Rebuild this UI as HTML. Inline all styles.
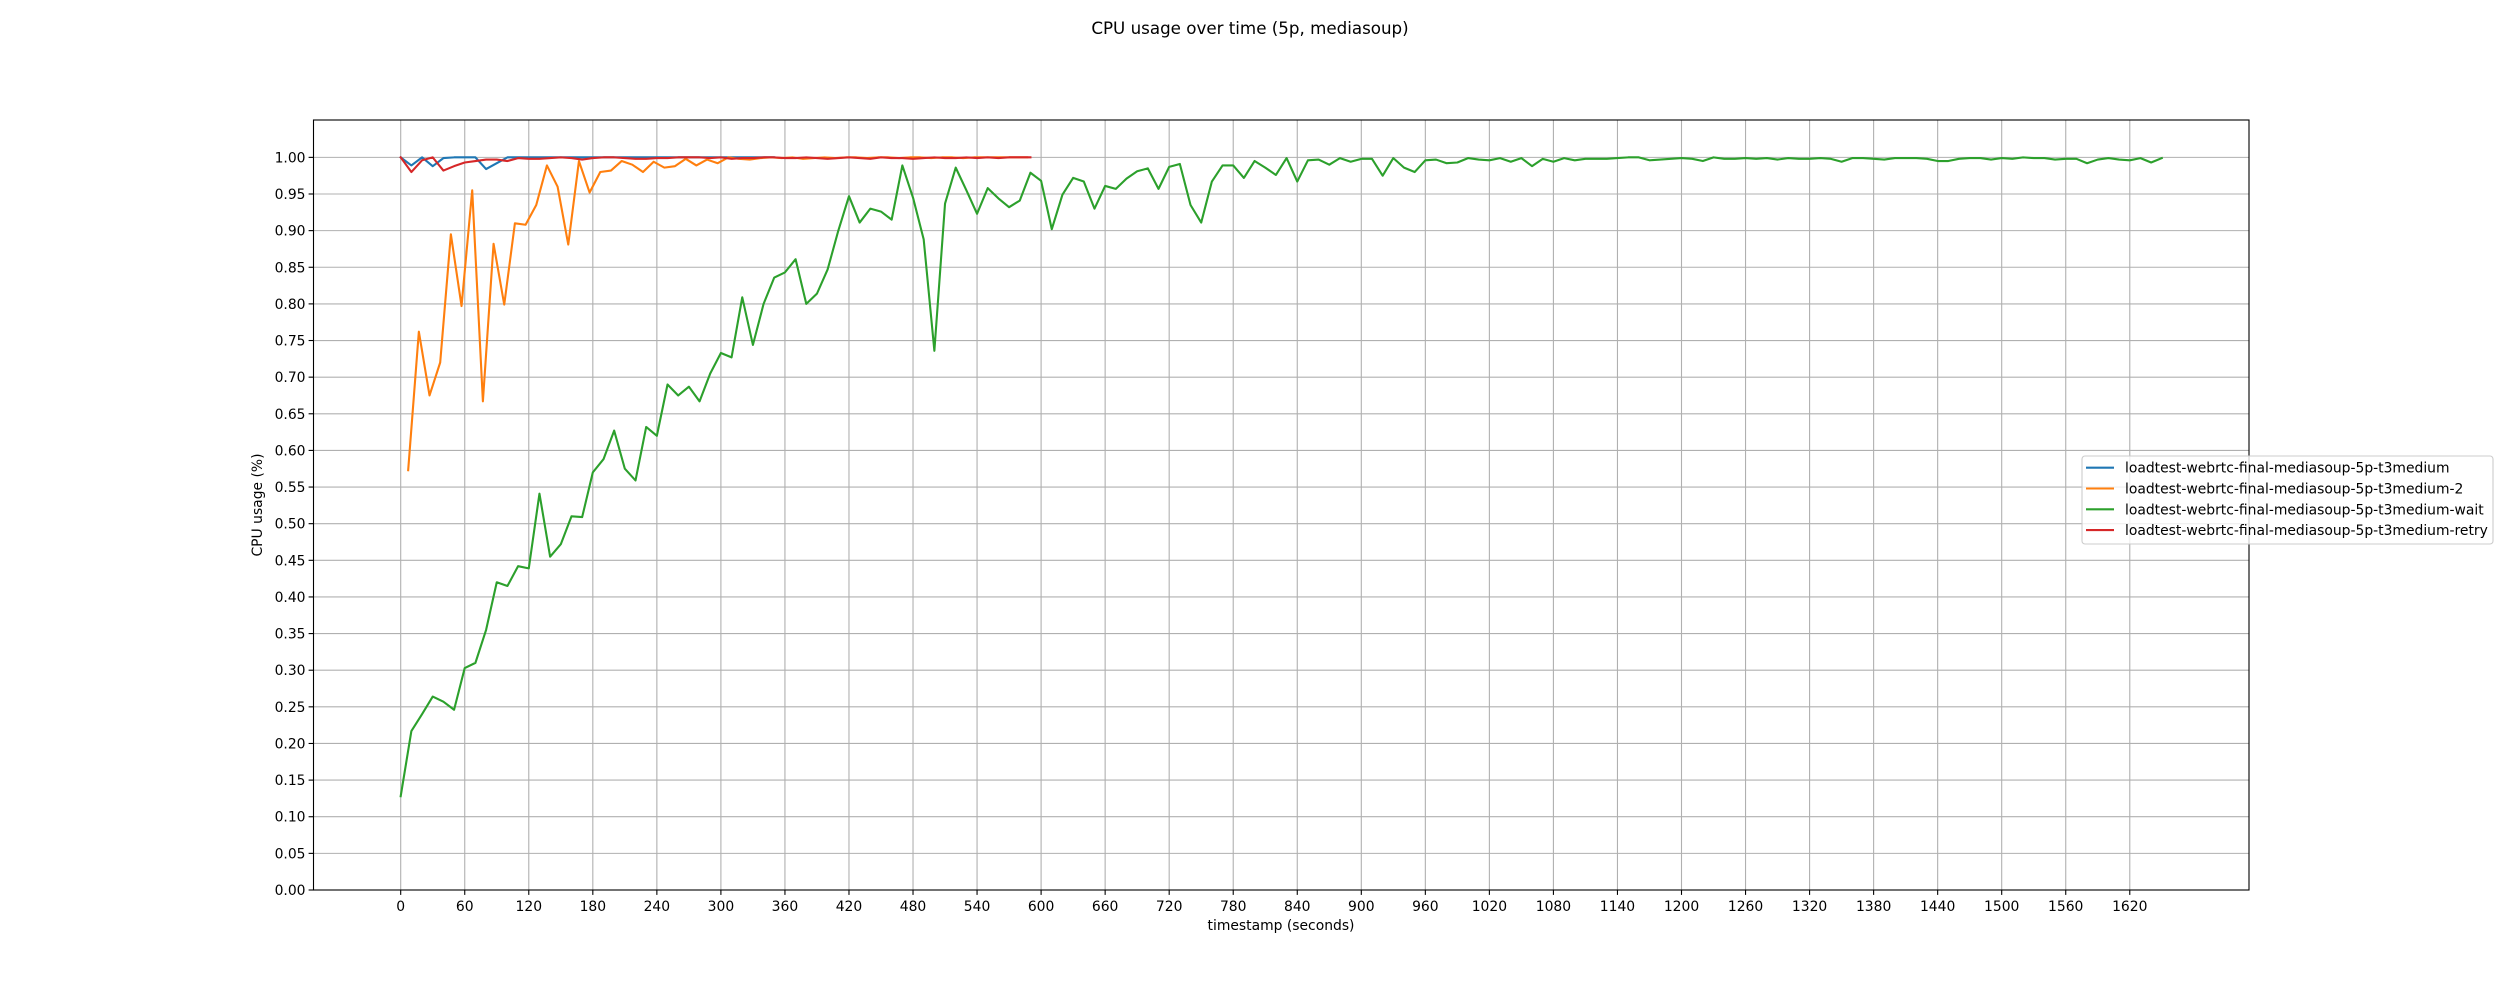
<!DOCTYPE html>
<html><head><meta charset="utf-8"><style>
body{margin:0;background:#fff;}
svg{display:block;font-family:"DejaVu Sans","Liberation Sans",sans-serif;}
</style></head><body>
<svg id="chart" width="2500" height="1000" viewBox="0 0 2500 1000" xmlns="http://www.w3.org/2000/svg">
<rect width="2500" height="1000" fill="#fff"/>
<text x="1250" y="34" font-size="16.7" text-anchor="middle">CPU usage over time (5p, mediasoup)</text>
<g id="grid"></g>
<g id="series"></g>
<g id="axes"></g>
<text x="1281" y="930" font-size="13.9" text-anchor="middle">timestamp (seconds)</text>
<text x="262" y="505" font-size="13.9" text-anchor="middle" transform="rotate(-90 262 505)">CPU usage (%)</text>
<g id="legend"></g>
</svg>
<script>
const seriesNames=["loadtest-webrtc-final-mediasoup-5p-t3medium","loadtest-webrtc-final-mediasoup-5p-t3medium-2","loadtest-webrtc-final-mediasoup-5p-t3medium-wait","loadtest-webrtc-final-mediasoup-5p-t3medium-retry"];
const seriesStart=[0,7,0,0];
const seriesStep=[10,10,10,10];
const blueValues=[1.0,0.989,1.0,0.988,0.999,1.0,1.0,1.0,0.984,0.992,1.0,1.0,1.0,1.0,1.0,1.0,1.0,1.0,1.0,1.0,1.0,1.0,1.0,1.0,1.0,1.0,1.0,1.0,1.0,1.0,1.0,1.0,1.0,1.0,1.0,1.0];
const orangeValues=[0.573,0.762,0.675,0.72,0.895,0.797,0.955,0.667,0.882,0.799,0.91,0.908,0.935,0.989,0.96,0.881,0.995,0.952,0.98,0.982,0.995,0.99,0.98,0.994,0.986,0.988,0.998,0.989,0.997,0.992,1.0,0.998,0.997,0.999,1.0,0.999,1.0,0.998,0.999,1.0,0.999,1.0,1.0,0.999,1.0,1.0,0.999,1.0,1.0,0.999,1.0,1.0,0.999,1.0,1.0,1.0,1.0,1.0,1.0];
const greenValues=[0.128,0.217,0.24,0.264,0.257,0.246,0.303,0.31,0.355,0.42,
0.415,0.442,0.439,0.541,0.455,0.472,0.51,0.509,0.57,0.588,
0.627,0.575,0.559,0.632,0.62,0.69,0.675,0.687,0.667,0.705,
0.733,0.727,0.809,0.744,0.8,0.836,0.843,0.861,0.8,0.814,
0.847,0.9,0.947,0.911,0.93,0.926,0.915,0.989,0.945,0.888,
0.736,0.937,0.986,0.955,0.923,0.958,0.944,0.932,0.941,0.979,
0.968,0.902,0.949,0.972,0.967,0.93,0.961,0.957,0.971,0.981,
0.985,0.957,0.987,0.991,0.935,0.911,0.967,0.989,0.989,0.972,
0.995,0.986,0.976,0.999,0.967,0.996,0.997,0.99,0.999,0.994,
0.998,0.998,0.975,0.999,0.986,0.98,0.996,0.997,0.992,0.993,
0.999,0.997,0.996,0.999,0.994,0.999,0.988,0.998,0.994,0.999,
0.996,0.998,0.998,0.998,0.999,1.0,1.0,0.996,0.997,0.998,
0.999,0.998,0.995,1.0,0.998,0.998,0.999,0.998,0.999,0.997,
0.999,0.998,0.998,0.999,0.998,0.994,0.999,0.999,0.998,0.997,
0.999,0.999,0.999,0.998,0.995,0.995,0.998,0.999,0.999,0.997,
0.999,0.998,1.0,0.999,0.999,0.997,0.998,0.998,0.992,0.997,
0.999,0.997,0.996,0.999,0.993,0.999];
const redValues=[1.0,0.98,0.996,1.0,0.982,0.988,0.993,0.995,0.997,0.997,
0.995,0.999,0.998,0.998,0.999,1.0,0.999,0.997,0.999,1.0,
1.0,0.999,0.998,0.998,0.999,0.999,1.0,1.0,1.0,0.999,
1.0,0.998,0.999,0.999,1.0,1.0,0.999,0.999,1.0,0.999,
0.998,0.999,1.0,0.999,0.998,1.0,0.999,0.999,0.998,0.999,
1.0,0.999,0.999,1.0,0.999,1.0,0.999,1.0,1.0,1.0];
const xTicks=[0,60,120,180,240,300,360,420,480,540,600,660,720,780,840,900,960,1020,1080,1140,1200,1260,1320,1380,1440,1500,1560,1620];
const yTicks=[0,0.05,0.1,0.15,0.2,0.25,0.3,0.35,0.4,0.45,0.5,0.55,0.6,0.65,0.7,0.75,0.8,0.85,0.9,0.95,1.0];
const colors=["#1f77b4","#ff7f0e","#2ca02c","#d62728"];
const allValues=[blueValues,orangeValues,greenValues,redValues];

const L=313.5,R=2249,T=120,B=890;
const X0=-81.7,X1=1731.7,Y0=0,Y1=1.051;
const xs=v=>L+(v-X0)/(X1-X0)*(R-L);
const ys=v=>B-(v-Y0)/(Y1-Y0)*(B-T);
const NS="http://www.w3.org/2000/svg";
function mk(tag,attrs,parent){const e=document.createElementNS(NS,tag);for(const k in attrs)e.setAttribute(k,attrs[k]);parent.appendChild(e);return e;}
const grid=document.getElementById('grid'),axes=document.getElementById('axes'),ser=document.getElementById('series'),leg=document.getElementById('legend');

xTicks.forEach(t=>{
  const x=xs(t);
  const g=mk('line',{x1:x,x2:x,y1:T,y2:B,stroke:'#b0b0b0','stroke-width':1.1},grid);
  
  
  const tk=mk('line',{x1:x,x2:x,y1:B,y2:B+4.9,stroke:'#000','stroke-width':1.1},axes);
  
  
  const lb=mk('text',{x:x,y:B+21,'font-size':13.9,'text-anchor':'middle'},axes);
  lb.textContent=String(t);
  
  
});
yTicks.forEach(t=>{
  const y=ys(t);
  const g=mk('line',{x1:L,x2:R,y1:y,y2:y,stroke:'#b0b0b0','stroke-width':1.1},grid);
  
  
  const tk=mk('line',{x1:L-4.9,x2:L,y1:y,y2:y,stroke:'#000','stroke-width':1.1},axes);
  
  
  const lb=mk('text',{x:L-8,y:y+5,'font-size':13.9,'text-anchor':'end'},axes);
  lb.textContent=t.toFixed(2);
  
  
});
const frame=mk('rect',{x:L,y:T,width:R-L,height:B-T,fill:'none',stroke:'#000','stroke-width':1.1},axes);



allValues.forEach((vals,i)=>{
  const pts=vals.map((v,k)=>xs(seriesStart[i]+k*seriesStep[i]).toFixed(2)+','+ys(v).toFixed(2)).join(' ');
  const p=mk('polyline',{points:pts,fill:'none',stroke:colors[i],'stroke-width':2.1,'stroke-linejoin':'round','stroke-linecap':'square'},ser);
  
  
});

const box=mk('rect',{x:2082,y:456,width:411,height:88,rx:3,fill:'#fff','fill-opacity':0.8,stroke:'#ccc','stroke-width':1.1},leg);


seriesNames.forEach((n,i)=>{
  const y=467.7+i*20.8;
  const ln=mk('line',{x1:2086,x2:2114,y1:y,y2:y,stroke:colors[i],'stroke-width':2.1},leg);
  
  
  const tx=mk('text',{x:2125,y:y+5,'font-size':13.9},leg);
  tx.textContent=n;
  
  
});
</script>
</body></html>
